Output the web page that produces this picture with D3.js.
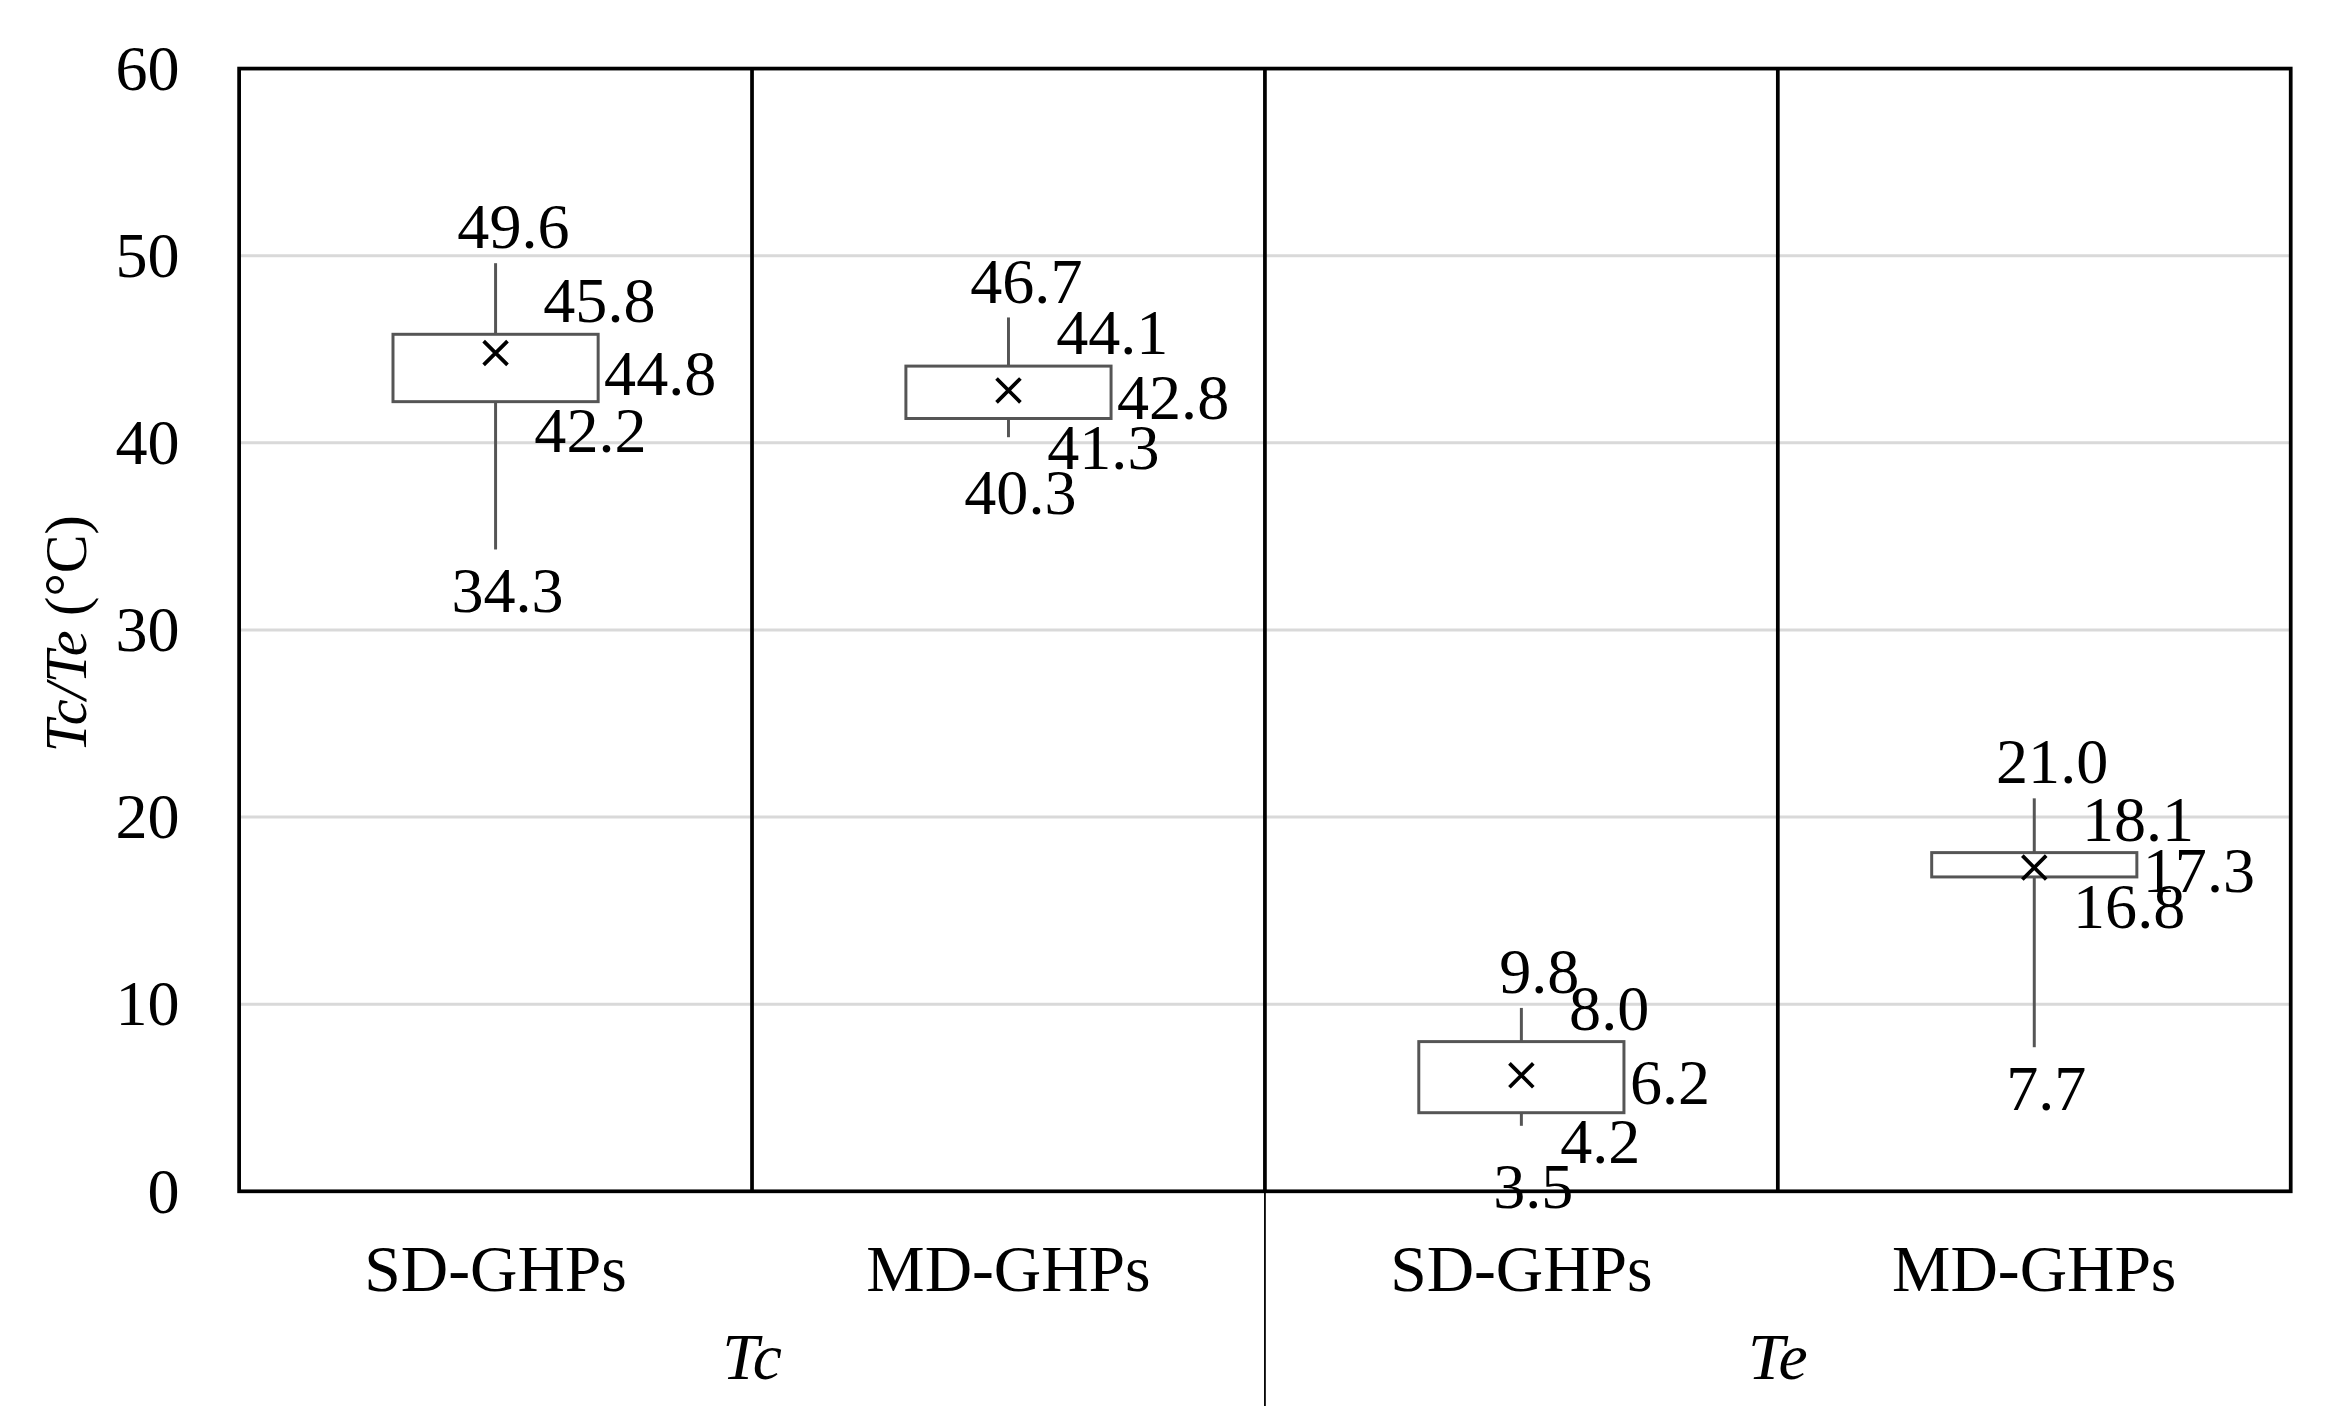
<!DOCTYPE html>
<html><head><meta charset="utf-8">
<script src="https://cdn.jsdelivr.net/npm/d3@7/dist/d3.min.js"></script>
<style>body{margin:0;background:#fff}</style></head>
<body><svg id="c"></svg>
<script>
const categories = ["SD-GHPs","MD-GHPs","SD-GHPs","MD-GHPs"];
const groups = ["Tc","Te"];
const minV = [34.3,40.3,3.5,7.7];
const q1V = [42.2,41.3,4.2,16.8];
const meanV = [44.8,42.8,6.2,17.3];
const q3V = [45.8,44.1,8.0,18.1];
const maxV = [49.6,46.7,9.8,21.0];
const yTicks = [0,10,20,30,40,50,60];

const W=1568,H=943;
const svg=d3.select("#c").attr("width",2339).attr("height",1406).attr("viewBox",`0 0 ${W} ${H}`);
const L=160,R=1536,T=46,B=799;
const x=d3.scaleBand().domain(d3.range(4)).range([L,R]);
const y=d3.scaleLinear().domain([0,60]).range([B,T]);
const font="'Liberation Serif','Times New Roman',serif";
const FS=43;

yTicks.filter(v=>v>0&&v<60).forEach(v=>svg.append("line").attr("x1",L).attr("x2",R).attr("y1",y(v)).attr("y2",y(v)).attr("stroke","#d9d9d9").attr("stroke-width",2));
const yAxis=d3.axisLeft(y).tickValues(yTicks).tickSize(0).tickPadding(40);
const ga=svg.append("g").attr("transform",`translate(${L},0)`).call(yAxis);
ga.select(".domain").remove();
ga.selectAll("text").attr("font-family",font).attr("font-size",FS).attr("fill","#000").attr("dy","0.32em");

svg.append("rect").attr("x",L).attr("y",T).attr("width",R-L).attr("height",B-T).attr("fill","none").attr("stroke","#000").attr("stroke-width",2.5);
[1,2,3].forEach(i=>svg.append("line").attr("x1",x(i)).attr("x2",x(i)).attr("y1",T).attr("y2",B).attr("stroke","#000").attr("stroke-width",2.5));
svg.append("line").attr("x1",x(2)).attr("x2",x(2)).attr("y1",B).attr("y2",H).attr("stroke","#000").attr("stroke-width",1.2);

const bw=x.bandwidth()*0.4;
d3.range(4).forEach(i=>{
  const cx=x(i)+x.bandwidth()/2;
  const g=svg.append("g");
  const st="#555";
  g.append("line").attr("x1",cx).attr("x2",cx).attr("y1",y(maxV[i])).attr("y2",y(q3V[i])).attr("stroke",st).attr("stroke-width",2);
  g.append("line").attr("x1",cx).attr("x2",cx).attr("y1",y(q1V[i])).attr("y2",y(minV[i])).attr("stroke",st).attr("stroke-width",2);
  g.append("rect").attr("x",cx-bw/2).attr("y",y(q3V[i])).attr("width",bw).attr("height",y(q1V[i])-y(q3V[i])).attr("fill","#fff").attr("stroke",st).attr("stroke-width",2);
  const m=y(meanV[i]),s=8;
  g.append("path").attr("d",`M${cx-s},${m-s}L${cx+s},${m+s}M${cx-s},${m+s}L${cx+s},${m-s}`).attr("stroke","#000").attr("stroke-width",2.5);
  const t=(tx,ty,txt,anc)=>g.append("text").attr("x",tx).attr("y",ty).attr("text-anchor",anc).attr("font-family",font).attr("font-size",FS).text(txt);
  const f=v=>v.toFixed(1);
  const q1b=y(q1V[i])+34;
  t(cx+12,y(maxV[i])-10,f(maxV[i]),"middle");
  t(cx+32,y(q3V[i])-8,f(q3V[i]),"start");
  t(cx+bw/2+4,(y(q3V[i])+y(q1V[i]))/2+18,f(meanV[i]),"start");
  t(cx+26,q1b,f(q1V[i]),"start");
  t(cx+8,Math.max(y(minV[i])+42,q1b+30),f(minV[i]),"middle");
  svg.append("text").attr("x",cx).attr("y",866).attr("text-anchor","middle").attr("font-family",font).attr("font-size",44).text(categories[i]);
});
groups.forEach((gname,j)=>{
  svg.append("text").attr("x",x(j*2+1)).attr("y",925).attr("text-anchor","middle").attr("font-family",font).attr("font-size",44).attr("font-style","italic").text(gname);
});
const yt=svg.append("text").attr("transform","translate(57,425) rotate(-90)").attr("text-anchor","middle").attr("font-family",font).attr("font-size",39);
yt.append("tspan").attr("font-style","italic").text("Tc/Te");
yt.append("tspan").text(" (°C)");
</script></body></html>
